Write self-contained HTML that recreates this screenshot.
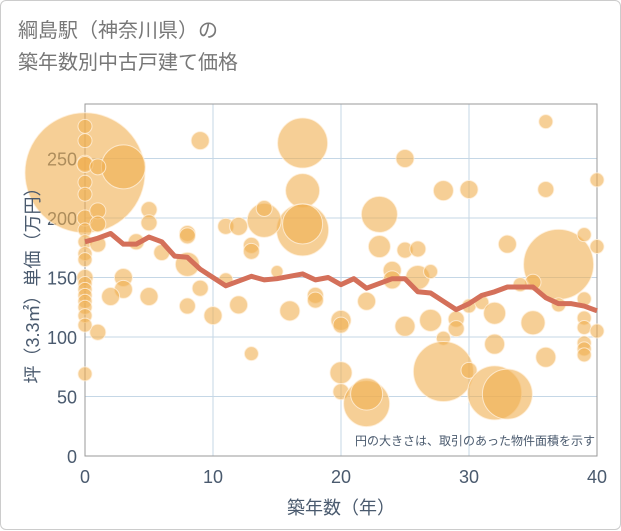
<!DOCTYPE html>
<html><head><meta charset="utf-8"><style>
body{margin:0;background:#fff;}
#wrap{position:relative;width:619px;height:528px;border:1px solid #ccc;border-radius:6px;background:#fff;font-family:"Liberation Sans","Noto Sans CJK JP",sans-serif;}
#title{position:absolute;left:17px;top:14px;font-size:20px;line-height:32px;color:#777;}
svg{position:absolute;left:0;top:0;}
</style></head><body>
<div id="wrap">
<div id="title">綱島駅（神奈川県）の<br>築年数別中古戸建て価格</div>
<svg id="chart" width="621" height="530"></svg>
</div>
<script>
const xTicks=[0,10,20,30,40];
const yTicks=[0,50,100,150,200,250];
const bubbleX=[0,3,9,17,17,17,17,14,14,13,13,11,12,8,8,8,5,5,6,4,3,3,2,5,1,0,8,9,10,12,13,11,15,16,
0,0,0,0,0,0,0,0,0,0,0,0,0,0,0,0,0,0,0,1,1,1,1,
25,23,23,25,26,24,24,26,27,28,30,33,36,36,40,37,39,40,35,34,18,18,20,20,22,25,27,29,29,30,31,32,32,35,36,37,39,39,39,39,39,39,40,28,28,20,20,22,22,30,32,33];
const bubbleY=[238,243,265,263,223,190,195,198,208,177,172,193,193,187,185,161,207,196,171,180,150,140,134,134,104,69,126,141,118,127,86,148,155,122,
277,265,246,245,230,220,200,190,180,170,165,150,145,140,135,130,125,118,110,243,206,195,178,
250,203,176,173,174,156,148,150,155,223,224,178,281,224,232,161,186,176,146,144,135,131,114,110,130,109,114,115,107,126,129,120,94,112,83,127,132,116,108,95,90,85,105,99,71,70,54,44,52,72,53,52];
const bubbleR=[60,22,9,25,17,26,20,17,8,8,8,8,9,8,8,12,8,8,8,8,9,9,9,9,8,7,8,8,9,9,7,7,6,10,
7,7,8,8,7,7,8,7,7,7,7,8,7,7,7,7,7,7,7,8,8,8,8,
9,18,11,8,8,9,9,12,7,10,9,9,7,8,7,35,7,7,8,7,8,8,10,8,9,10,11,8,8,7,7,11,10,12,10,7,7,7,7,7,7,7,7,7,30,11,8,23,16,8,27,25];
const lineX=[0,1,2,3,4,5,6,7,8,9,10,11,12,13,14,15,16,17,18,19,20,21,22,23,24,25,26,27,28,29,30,31,32,33,34,35,36,37,38,39,40];
const lineY=[180,183,187,178,178,184,180,168,167,157,150,143,147,151,148,149,151,153,148,150,144,149,141,145,149,149,138,137,130,123,128,135,138,142,142,142,133,128,128,126,122];
const L=84,R=596,B=455,T=103;
const sx=v=>L+v*(R-L)/40, sy=v=>B-v*(B-157.5)/250;
const svg=document.getElementById('chart');const NS='http://www.w3.org/2000/svg';
function mk(t,a,p){const e=document.createElementNS(NS,t);for(const k in a)e.setAttribute(k,a[k]);(p||svg).appendChild(e);return e;}
const grid=mk('g',{});
xTicks.forEach(t=>{const l=mk('line',{x1:sx(t),x2:sx(t),y1:T,y2:B,stroke:'#c5d7e6','stroke-width':1},grid);
const tx=mk('text',{x:sx(t),y:482,'text-anchor':'middle','font-size':18,fill:'#4a5a6e'});tx.textContent=t;});
yTicks.forEach(t=>{const l=mk('line',{x1:L,x2:R,y1:sy(t),y2:sy(t),stroke:'#c5d7e6','stroke-width':1},grid);
const tx=mk('text',{x:76,y:sy(t)+7,'text-anchor':'end','font-size':18,fill:'#4a5a6e'});tx.textContent=t;});
const frame=mk('rect',{x:L,y:T,width:R-L,height:B-T,fill:'none',stroke:'#999','stroke-width':1});
const bg=mk('g',{});
bubbleX.forEach((x,i)=>{const c=mk('circle',{cx:sx(x),cy:sy(bubbleY[i]),r:bubbleR[i],fill:'rgba(240,175,80,0.6)',stroke:'rgba(255,240,220,0.8)','stroke-width':1},bg);});
const pl=mk('polyline',{points:lineX.map((x,i)=>sx(x)+','+sy(lineY[i])).join(' '),fill:'none',stroke:'#d4705a','stroke-width':5,'stroke-linejoin':'round'});
const note=mk('text',{x:594,y:444,'text-anchor':'end','font-size':12,fill:'#4a5a6e'});note.textContent='円の大きさは、取引のあった物件面積を示す';
const xt=mk('text',{x:340,y:513,'text-anchor':'middle','font-size':18,fill:'#4a5a6e'});xt.textContent='築年数（年）';
const yt=mk('text',{x:0,y:0,'text-anchor':'middle','font-size':18,fill:'#4a5a6e',transform:'translate(38,280) rotate(-90)'});yt.textContent='坪（3.3㎡）単価（万円）';
</script>
</body></html>
